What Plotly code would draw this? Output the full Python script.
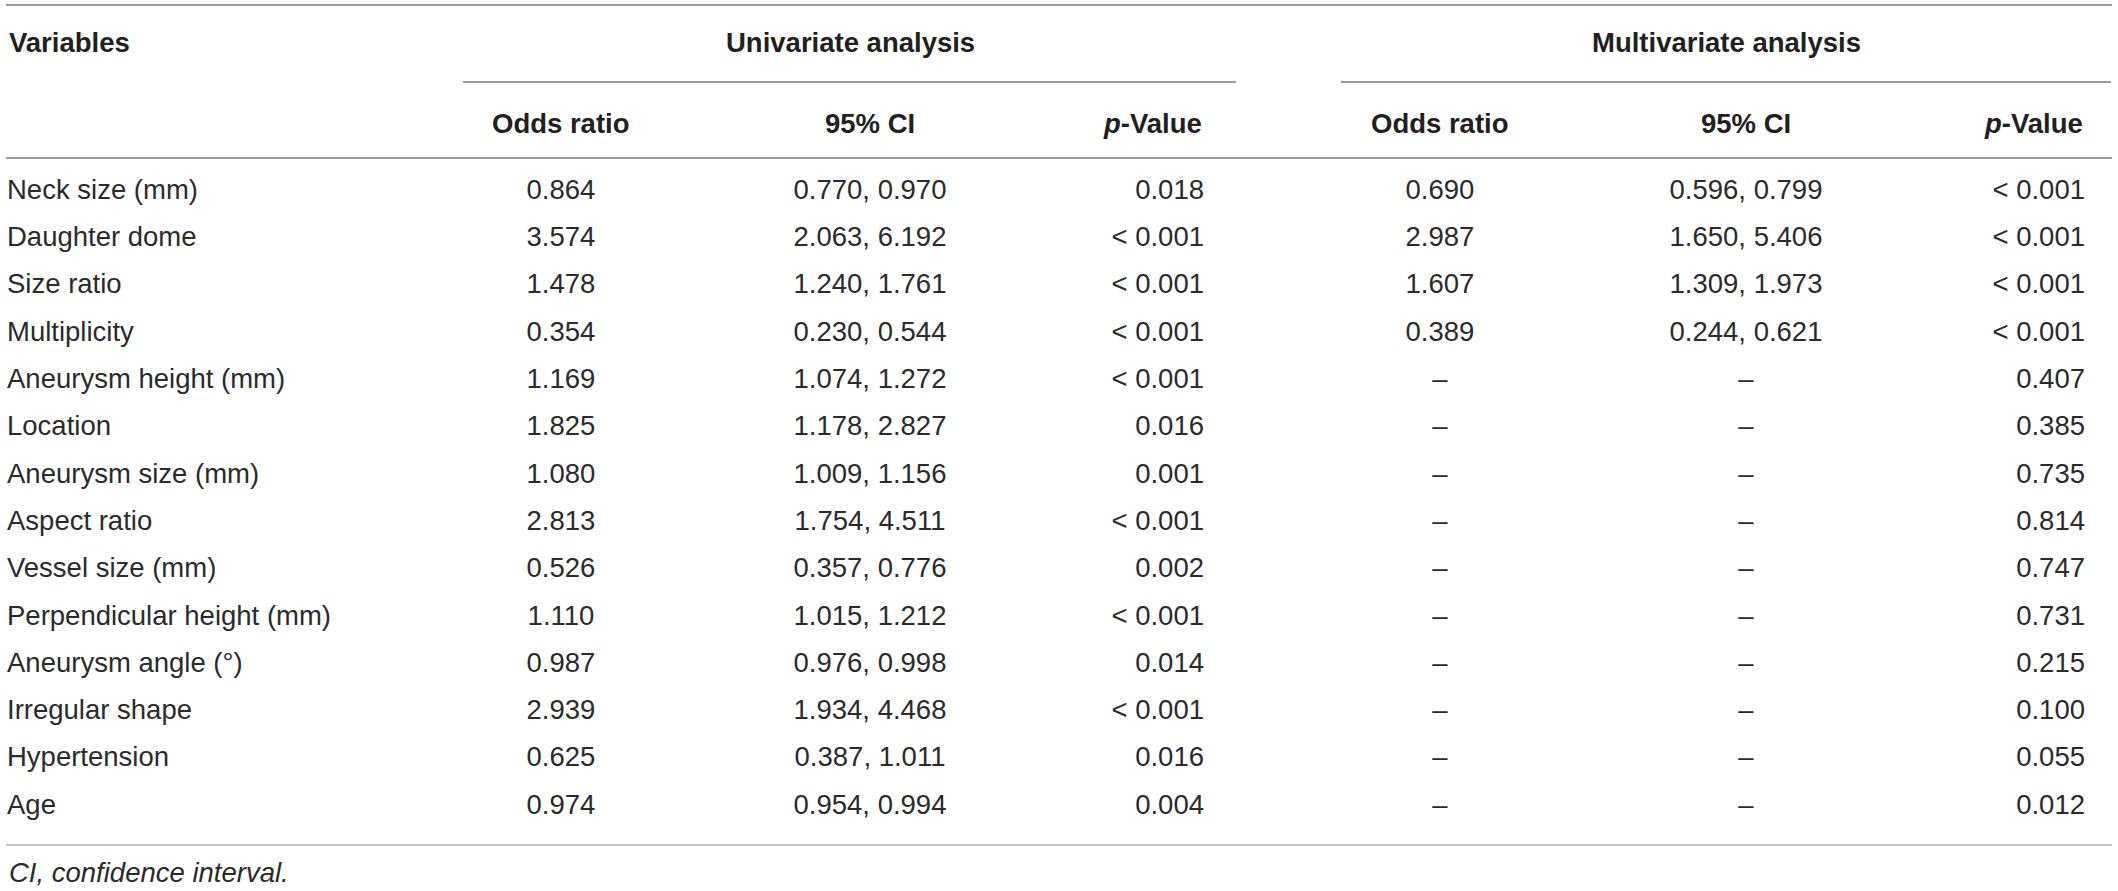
import plotly.graph_objects as go

# ---------------- data ----------------
variables = ["Neck size (mm)", "Daughter dome", "Size ratio", "Multiplicity",
             "Aneurysm height (mm)", "Location", "Aneurysm size (mm)", "Aspect ratio",
             "Vessel size (mm)", "Perpendicular height (mm)", "Aneurysm angle (°)",
             "Irregular shape", "Hypertension", "Age"]
uni_or = ["0.864", "3.574", "1.478", "0.354", "1.169", "1.825", "1.080",
          "2.813", "0.526", "1.110", "0.987", "2.939", "0.625", "0.974"]
uni_ci = ["0.770, 0.970", "2.063, 6.192", "1.240, 1.761", "0.230, 0.544",
          "1.074, 1.272", "1.178, 2.827", "1.009, 1.156", "1.754, 4.511",
          "0.357, 0.776", "1.015, 1.212", "0.976, 0.998", "1.934, 4.468",
          "0.387, 1.011", "0.954, 0.994"]
uni_p = ["0.018", "&lt; 0.001", "&lt; 0.001", "&lt; 0.001", "&lt; 0.001", "0.016", "0.001",
         "&lt; 0.001", "0.002", "&lt; 0.001", "0.014", "&lt; 0.001", "0.016", "0.004"]
multi_or = ["0.690", "2.987", "1.607", "0.389", "–", "–", "–",
            "–", "–", "–", "–", "–", "–", "–"]
multi_ci = ["0.596, 0.799", "1.650, 5.406", "1.309, 1.973", "0.244, 0.621", "–", "–", "–",
            "–", "–", "–", "–", "–", "–", "–"]
multi_p = ["&lt; 0.001", "&lt; 0.001", "&lt; 0.001", "&lt; 0.001", "0.407", "0.385", "0.735",
           "0.814", "0.747", "0.731", "0.215", "0.100", "0.055", "0.012"]

first_header = "Variables"
group_headers = ["Univariate analysis", "Multivariate analysis"]
sub_headers = ["Odds ratio", "95% CI", "<i>p</i>-Value"]
footnote = "CI, confidence interval."

# ---------------- layout constants ----------------
FONT = "Liberation Sans"
TXT = "#2b2b2b"
HTXT = "#231f20"
BODY = 27.5
HEAD = 27.5
ROW0 = 192.0      # window pixel of first row centre
PITCH = 47.3      # row pitch in pixels
W, H = 2118, 891

def py(p):
    return (p - ROW0) / PITCH

X_VAR = 7
X_UNI = [561, 870, 1204]
X_MUL = [1440, 1746, 2085]
POS = ["middle center", "middle center", "middle left"]
ANCH = ["center", "center", "right"]

fig = go.Figure()

rows = list(range(len(variables)))

def add_col(xpos, values, pos):
    fig.add_trace(go.Scatter(
        x=[xpos] * len(values), y=rows, mode="text", text=values,
        textposition=pos, cliponaxis=False, hoverinfo="skip", showlegend=False,
        textfont=dict(family=FONT, size=BODY, color=TXT)))

add_col(X_VAR, variables, "middle right")
for xs, cols in ((X_UNI, (uni_or, uni_ci, uni_p)), (X_MUL, (multi_or, multi_ci, multi_p))):
    for x, vals, pos in zip(xs, cols, POS):
        add_col(x, vals, pos)

ann = []
def head(text, x, y, anchor):
    ann.append(dict(text="<b>" + text + "</b>", x=x, y=y, xref="x", yref="y",
                    xanchor=anchor, yanchor="middle", showarrow=False,
                    font=dict(family=FONT, size=HEAD, color=HTXT)))

head(first_header, X_VAR, py(42), "left")
head(group_headers[0], 850, py(42), "center")
head(group_headers[1], 1726, py(42), "center")
for xs in (X_UNI, X_MUL):
    for x, t, a in zip(xs, sub_headers, ANCH):
        head(t, x, py(123), a)

ann.append(dict(text="<i>" + footnote + "</i>", x=X_VAR, y=py(872), xref="x", yref="y",
                xanchor="left", yanchor="middle", showarrow=False,
                font=dict(family=FONT, size=BODY, color=TXT)))

def hline(x0, x1, p, color, w=1.5):
    return dict(type="line", xref="x", yref="y", x0=x0, x1=x1, y0=py(p), y1=py(p),
                line=dict(color=color, width=w))

shapes = [
    hline(6, 2112, 5, "#7a7a7a"),
    hline(463, 1236, 82, "#7a7a7a"),
    hline(1341, 2111, 82, "#7a7a7a"),
    hline(6, 2112, 158, "#7a7a7a"),
    hline(6, 2112, 845, "#b0b0b0"),
]

fig.update_layout(
    width=W, height=H, margin=dict(l=0, r=0, t=0, b=0),
    paper_bgcolor="white", plot_bgcolor="white",
    xaxis=dict(range=[0, W], visible=False, fixedrange=True),
    yaxis=dict(range=[py(H), py(0)], visible=False, fixedrange=True),
    annotations=ann, shapes=shapes, showlegend=False,
)

fig.write_html("out.html",
               config={"displayModeBar": False, "staticPlot": True},
               post_script="document.body.style.margin='0';document.body.style.overflow='hidden';")
